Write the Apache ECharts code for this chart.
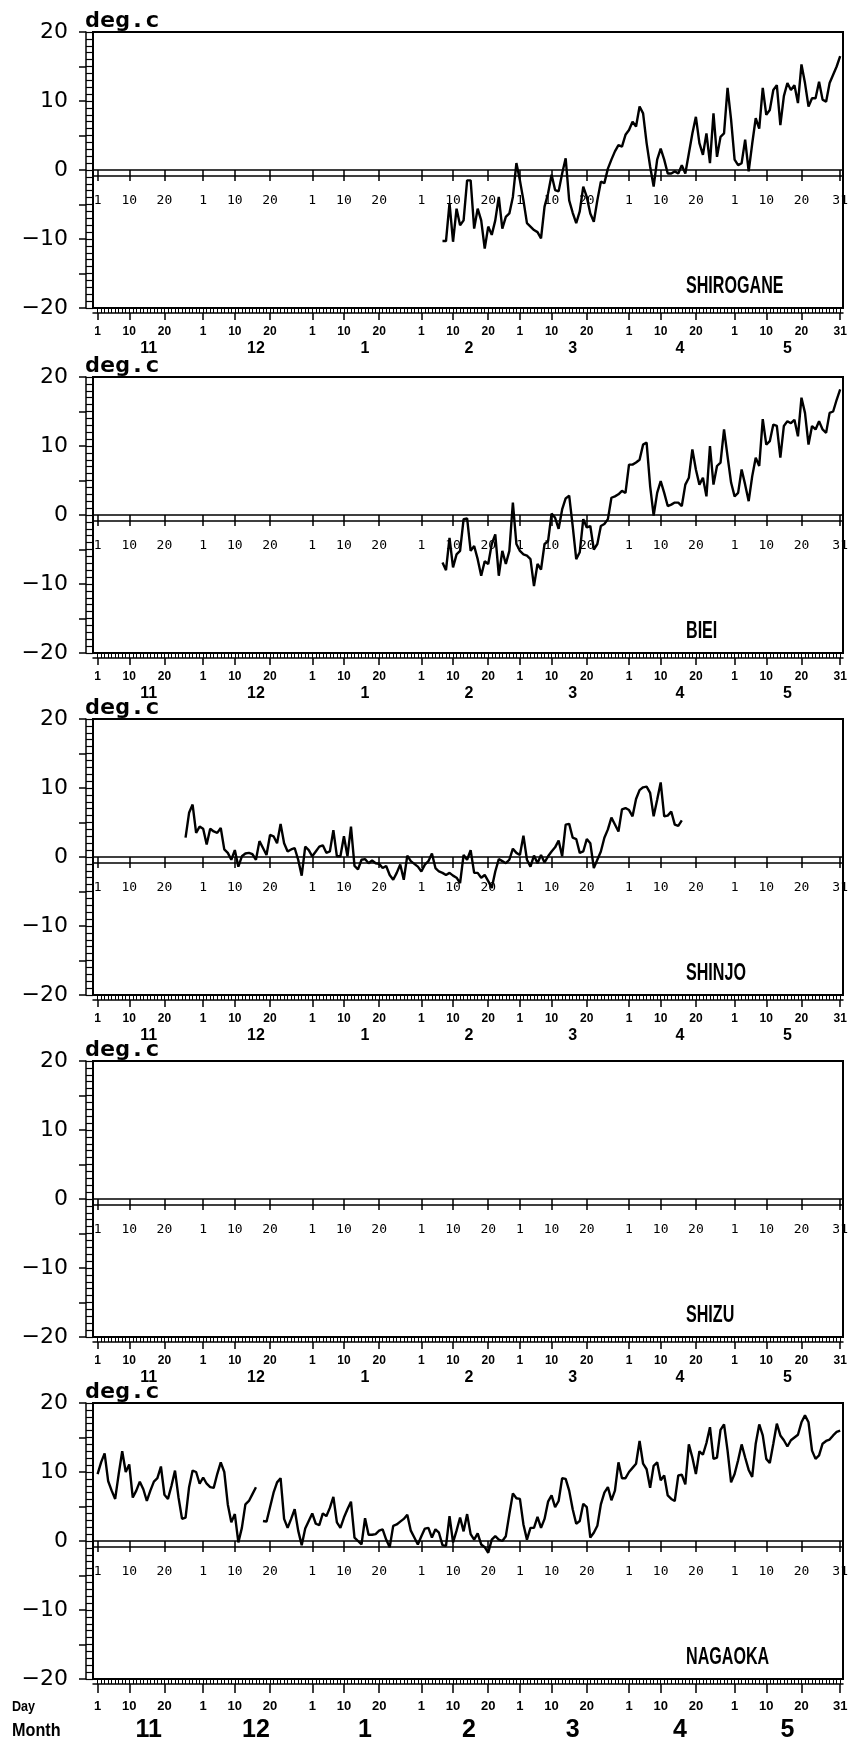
<!DOCTYPE html>
<html>
<head>
<meta charset="utf-8">
<script src="https://cdn.jsdelivr.net/npm/echarts@6/dist/echarts.min.js"></script>
<style>
  html, body { margin: 0; padding: 0; background: #fff; }
  #chart { width: 853px; height: 1746px; }
</style>
</head>
<body>
<div id="chart"></div>
<script>
// months Nov..May, day index 0 = Nov 1, 211 = May 31
const months = ['11', '12', '1', '2', '3', '4', '5'];
const monthStarts = [0, 30, 61, 92, 120, 151, 181];
const monthLengths = [30, 31, 31, 28, 31, 30, 31];
const dayTickLabels = ['1', '10', '20'];
const yTicks = [-20, -10, 0, 10, 20];

const stations = ['SHIROGANE', 'BIEI', 'SHINJO', 'SHIZU', 'NAGAOKA'];

// daily mean temperature, deg.c
const shiroganeStart = 98;
const shirogane = [
  -10.3, -10.3, -4.8, -10.4, -5.6, -8, -7.3, -1.5, -1.5, -8.5,
  -5.6, -7.3, -11.4, -8.2, -9.4, -7.3, -3.9, -8.5, -6.8, -6.3,
  -3.9, 1, -1.5, -4.4, -7.7, -8.2, -8.7, -9, -9.9, -5.3,
  -3.4, -0.7, -2.9, -3.1, -0.5, 1.7, -4.4, -6.2, -7.7, -6,
  -2.4, -3.9, -6.3, -7.5, -4.4, -1.7, -1.9, 0.2, 1.5, 2.7,
  3.6, 3.4, 5.1, 5.8, 7, 6.3, 9.2, 8.2, 3.9, 0.5,
  -2.4, 1.5, 3.1, 1.5, -0.5, -0.5, -0.2, -0.5, 0.7, -0.5,
  2.4, 5.3, 7.7, 3.9, 2.2, 5.3, 1, 8.2, 1.9, 4.8,
  5.3, 11.9, 7.3, 1.5, 0.7, 1, 4.4, -0.2, 3.8, 7.5,
  6, 11.9, 8, 8.7, 11.6, 12.3, 6.5, 10.7, 12.6, 11.6,
  12.3, 9.7, 15.3, 12.6, 9.2, 10.4, 10.4, 12.8, 10.2, 9.9,
  12.6, 13.8, 15, 16.5
];

const bieiStart = 98;
const biei = [
  -6.9, -8, -3.3, -7.6, -5.7, -5.2, -0.6, -0.5, -5.2, -4.5,
  -6.4, -8.8, -6.7, -7.1, -4.2, -2.8, -8.8, -5.2, -7.1, -5.2,
  1.8, -4.2, -5.2, -5.7, -5.9, -6.4, -10.3, -7.1, -7.9, -4.2,
  -3.8, 0.2, -0.4, -2, 0.8, 2.4, 2.8, -1.6, -6.4, -5.4,
  -0.6, -1.8, -1.6, -5, -4.2, -1.6, -1.3, -0.6, 2.5, 2.7,
  3, 3.5, 3.2, 7.3, 7.3, 7.6, 8, 10.2, 10.5, 4.2,
  -0.1, 3.2, 4.9, 3.2, 1.3, 1.5, 1.8, 1.8, 1.3, 4.4,
  5.4, 9.5, 6.6, 4.4, 5.4, 2.7, 10, 4.4, 7.1, 7.6,
  12.4, 8.5, 4.7, 2.7, 3.2, 6.6, 4.4, 2, 5.6, 8.3,
  7.1, 13.9, 10.2, 10.7, 13.1, 12.9, 8.3, 12.9, 13.6, 13.3,
  13.8, 11.4, 17, 14.8, 10.2, 12.9, 12.4, 13.6, 12.4, 11.9,
  14.8, 15, 16.7, 18.2
];

const shinjoStart = 25;
const shinjo = [
  2.8, 6.4, 7.6, 3.5, 4.4, 4.1, 1.8, 4.1, 3.7, 3.5,
  4.2, 1.1, 0.6, -0.4, 1, -1.4, 0.1, 0.5, 0.6, 0.4,
  -0.4, 2.3, 1.3, 0.3, 3.2, 3, 2, 4.8, 2, 0.8,
  1.1, 1.3, -0.4, -2.7, 1.5, 1, 0.1, 0.8, 1.5, 1.7,
  0.6, 0.8, 3.9, 0.1, 0.1, 3, 0.1, 4.4, -1.3, -1.8,
  -0.4, -0.3, -0.9, -0.5, -0.9, -1, -1.6, -1.3, -2.6, -3.3,
  -2.3, -1.1, -3.3, 0.2, -0.6, -1, -1.4, -2.1, -1.1, -0.6,
  0.5, -1.6, -2.1, -2.3, -2.6, -2.3, -2.7, -3, -3.8, 0.3,
  -0.4, 1, -2.3, -2.3, -3, -2.6, -3.5, -4.5, -2.1, -0.3,
  -0.6, -0.9, -0.4, 1.2, 0.6, 0.3, 3.1, -0.4, -1.4, 0.2,
  -0.9, 0.3, -0.8, 0.1, 0.8, 1.4, 2.4, 0.1, 4.7, 4.8,
  2.8, 2.6, 0.6, 0.8, 2.6, 2, -1.6, -0.4, 0.8, 2.8,
  4, 5.7, 4.7, 3.7, 6.9, 7.1, 6.8, 5.9, 8.4, 9.7,
  10.1, 10.2, 9.3, 5.9, 8.3, 10.8, 5.9, 6, 6.6, 4.7,
  4.5, 5.3
];

// no record at SHIZU
const shizuStart = 0;
const shizu = [];

// null = missing day
const nagaokaStart = 0;
const nagaoka = [
  9.7, 11.4, 12.7, 8.7, 7.3, 6.1, 9.7, 13, 10, 11.1,
  6.3, 7.3, 8.6, 7.5, 5.8, 7.3, 8.6, 9.1, 10.8, 6.7,
  6.1, 8, 10.2, 6.3, 3.2, 3.4, 7.8, 10.2, 10, 8.3,
  9.2, 8.3, 7.8, 7.7, 9.7, 11.4, 10, 5.3, 2.7, 3.9,
  -0.2, 1.9, 5.3, 5.8, 6.8, 7.8, null,
  2.9, 2.8, 4.9, 7, 8.5, 9.1, 3.2, 1.9, 3.2, 4.6,
  1.5, -0.6, 1.8, 2.9, 4, 2.5, 2.3, 4, 3.6, 4.8,
  6.4, 2.7, 1.9, 3.4, 4.6, 5.7, 0.5, 0, -0.5, 3.3,
  0.9, 0.9, 1, 1.5, 1.7, 0.2, -0.9, 2.2, 2.4, 2.8,
  3.2, 3.8, 1.5, 0.5, -0.5, 0.7, 1.8, 1.9, 0.5, 1.7,
  1.2, -0.6, -0.7, 3.6, -0.2, 1.5, 3.4, 1.4, 3.9, 1,
  0.2,
  1.1, -0.5, -0.9, -1.7, 0.2, 0.7, 0.2, 0, 0.7, 3.9,
  6.9, 6.2, 6.1, 2.4, 0.2, 1.9, 1.9, 3.5, 1.9, 3.2,
  5.7, 6.6, 4.9, 5.8, 9.1, 9, 7.3, 4.6, 2.5, 2.9,
  5.4, 4.9, 0.5, 1.2, 2.2, 5.3, 7, 7.8, 5.9,
  7.3, 11.4, 9.1, 9.1, 10, 10.6, 11.2, 14.5, 11.2, 10.4,
  7.7, 10.9, 11.4, 8.8, 9.5, 6.6, 6.1, 5.8, 9.5,
  9.6, 8.2, 14, 12.1, 9.7, 13, 12.5, 14.2, 16.5,
  11.9, 12.1, 16.1, 16.9, 13.1, 8.5, 9.7, 11.7, 14,
  12.1, 10.3, 9.3, 14.1, 16.9, 15.3, 11.9, 11.3, 14.1,
  17, 15.3, 14.6, 13.7, 14.6, 15, 15.4, 17.2, 18.2,
  17.2, 13.1, 11.9, 12.4, 14.1, 14.5, 14.7, 15.3, 15.8, 16
];

const stationData = [
  [shiroganeStart, shirogane],
  [bieiStart, biei],
  [shinjoStart, shinjo],
  [shizuStart, shizu],
  [nagaokaStart, nagaoka]
];

// ---- ticks derived from the calendar ----
const lastDay = monthStarts[6] + monthLengths[6] - 1;
const allDays = [];
for (let d = 0; d <= lastDay; d++) allDays.push(d);
const majorDays = [];
const dayLabelOf = {};
monthStarts.forEach(s => {
  [0, 9, 19].forEach((o, i) => { majorDays.push(s + o); dayLabelOf[s + o] = dayTickLabels[i]; });
});
majorDays.push(lastDay);
dayLabelOf[lastDay] = String(monthLengths[6]);
const monthCenters = monthStarts.map((s, i) => s + monthLengths[i] / 2 - 0.5);
const ladder = [];
for (let v = -20; v <= 20; v++) ladder.push(v);
const fives = [];
for (let v = -20; v <= 20; v += 5) fives.push(v);

const X_MIN = -1.3, X_MAX = 211.8;
const BLACK = '#000';
const MONO = "'DejaVu Sans Mono', monospace";
const SANS = "'Liberation Sans', Arial, sans-serif";

const panelTops = [32, 377, 719, 1061, 1403];
const PW = 750, PH = 276;

const grids = [], xAxes = [], yAxes = [], series = [], texts = [];

function xAxis(g, extra) {
  return Object.assign({
    gridIndex: g, type: 'value', min: X_MIN, max: X_MAX, position: 'bottom',
    splitLine: { show: false },
    axisLine: { show: false, onZero: false },
    axisTick: { show: false },
    axisLabel: { show: false }
  }, extra);
}

stations.forEach((name, g) => {
  const top = panelTops[g];
  const last = g === stations.length - 1;
  grids.push({
    left: 93, top: top, width: PW, height: PH,
    show: true, borderColor: BLACK, borderWidth: 2,
    containLabel: false, outerBoundsMode: 'none'
  });

  // y axes: inner ladder + outer line with labels
  yAxes.push({
    gridIndex: g, type: 'value', min: -20, max: 20, interval: 10, position: 'left', offset: 0,
    splitLine: { show: false },
    axisLine: { show: true, onZero: false, lineStyle: { color: BLACK, width: 2 } },
    axisTick: { show: true, length: 7, customValues: ladder, lineStyle: { color: BLACK, width: 1.2 } },
    axisLabel: { show: false }
  });
  yAxes.push({
    gridIndex: g, type: 'value', min: -20, max: 20, interval: 10, position: 'left', offset: 7,
    splitLine: { show: false },
    axisLine: { show: true, onZero: false, lineStyle: { color: BLACK, width: 1.5 } },
    axisTick: { show: true, length: 7, customValues: fives, lineStyle: { color: BLACK, width: 1.5 } },
    axisLabel: { show: true, margin: 18, color: BLACK, fontFamily: "'DejaVu Sans', sans-serif", fontSize: 22,
      customValues: yTicks, formatter: v => (v < 0 ? '\u2212' + (-v) : String(v)) }
  });

  const xBase = xAxes.length;
  // zero line
  xAxes.push(xAxis(g, {
    axisLine: { show: true, onZero: true, lineStyle: { color: BLACK, width: 1.5 } },
    axisTick: { show: true, length: 11, customValues: majorDays, lineStyle: { color: BLACK, width: 1.5 } }
  }));
  // inner day axis just below zero
  xAxes.push(xAxis(g, {
    offset: -(PH / 2 - 6),
    axisLine: { show: true, onZero: false, lineStyle: { color: BLACK, width: 1.5 } },
    axisLabel: { show: true, margin: 18, color: BLACK, fontFamily: MONO, fontSize: 13,
      customValues: majorDays, formatter: v => dayLabelOf[Math.round(v)] }
  }));
  // bottom band with daily ticks
  xAxes.push(xAxis(g, {
    axisLine: { show: true, onZero: false, lineStyle: { color: BLACK, width: 2 } },
    axisTick: { show: true, length: 5, customValues: allDays, lineStyle: { color: BLACK, width: 1 } }
  }));
  // second band line, day labels
  xAxes.push(xAxis(g, {
    offset: 5,
    axisLine: { show: true, onZero: false, lineStyle: { color: BLACK, width: 1.5 } },
    axisTick: { show: true, length: last ? 9 : 7, customValues: majorDays, lineStyle: { color: BLACK, width: 1.5 } },
    axisLabel: { show: true, margin: last ? 16 : 13, color: BLACK, fontFamily: SANS, fontWeight: 'bold',
      fontSize: last ? 13 : 12, customValues: majorDays, formatter: v => dayLabelOf[Math.round(v)] }
  }));
  // month labels
  xAxes.push(xAxis(g, {
    axisLabel: { show: true, margin: last ? 39 : 33, color: BLACK, fontFamily: SANS, fontWeight: 'bold',
      fontSize: last ? 25 : 16, customValues: monthCenters,
      formatter: v => months[monthCenters.findIndex(c => Math.abs(c - v) < 0.01)] }
  }));

  texts.push({
    type: 'text', x: 85, y: top - 11, scaleX: 1.13, silent: true,
    style: { text: 'deg.c', fill: BLACK, fontFamily: MONO, fontWeight: 'bold', fontSize: 22,
      align: 'left', verticalAlign: 'middle' }
  });
  texts.push({
    type: 'text', x: 686, y: top + 255, scaleX: 0.7, silent: true,
    style: { text: name, fill: BLACK, fontFamily: SANS, fontWeight: 'bold', fontSize: 23,
      align: 'left', verticalAlign: 'middle' }
  });

  const [start, vals] = stationData[g];
  if (vals.length) {
    series.push({
      name: name, type: 'line', xAxisIndex: xBase, yAxisIndex: g * 2,
      data: vals.map((v, i) => [start + i, v]),
      showSymbol: false, symbol: 'none', connectNulls: false, animation: false,
      lineStyle: { color: BLACK, width: 2.4 }
    });
  }
});

texts.push({ type: 'text', x: 12, y: 1707, scaleX: 0.9, silent: true,
  style: { text: 'Day', fill: BLACK, fontFamily: SANS, fontWeight: 'bold', fontSize: 14, align: 'left', verticalAlign: 'middle' } });
texts.push({ type: 'text', x: 12, y: 1731, scaleX: 0.9, silent: true,
  style: { text: 'Month', fill: BLACK, fontFamily: SANS, fontWeight: 'bold', fontSize: 18, align: 'left', verticalAlign: 'middle' } });

const chart = echarts.init(document.getElementById('chart'));
chart.setOption({
  backgroundColor: '#fff',
  animation: false,
  graphic: texts,
  grid: grids,
  xAxis: xAxes,
  yAxis: yAxes,
  series: series
});
window.addEventListener('resize', () => chart.resize());
</script>
</body>
</html>
